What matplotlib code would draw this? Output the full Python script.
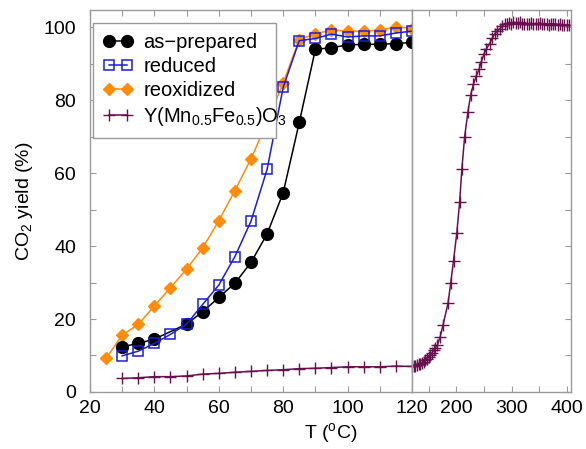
import matplotlib
matplotlib.use("Agg")
import matplotlib.pyplot as plt
from matplotlib.patches import Rectangle
from matplotlib.ticker import MultipleLocator, FixedLocator, FuncFormatter

plt.rcParams['font.family'] = ['Liberation Sans', 'DejaVu Sans']
plt.rcParams['mathtext.fontset'] = 'custom'
plt.rcParams['mathtext.rm'] = 'Liberation Sans'
plt.rcParams['mathtext.it'] = 'Liberation Sans:italic'

# as-prepared
temp_prep = [30, 35, 40, 50, 55, 60, 65, 70, 75, 80, 85, 90, 95, 100, 105, 110, 115, 120]
yield_prep = [12.4, 13.3, 14.5, 18.6, 22.0, 25.9, 29.8, 35.5, 43.3, 54.6, 73.9, 93.9,
              94.4, 95.1, 95.3, 95.3, 95.5, 95.8]

# reduced
temp_red = [30, 35, 40, 45, 50, 55, 60, 65, 70, 75, 80, 85, 90, 95, 100, 105, 110, 115, 120]
yield_red = [9.9, 11.2, 13.3, 15.8, 18.6, 24.0, 29.3, 37.1, 46.8, 61.0, 83.5, 96.3,
             96.9, 98.1, 97.3, 97.6, 97.6, 98.4, 98.9]

# reoxidized
temp_reox = [25, 30, 35, 40, 45, 50, 55, 60, 65, 70, 75, 80, 85, 90, 95, 100, 105, 110, 115, 120]
yield_reox = [9.2, 15.6, 18.5, 23.6, 28.6, 33.7, 39.5, 46.9, 55.2, 63.9, 74.0, 84.7,
              96.6, 98.2, 99.2, 98.9, 98.9, 99.2, 100.1, 99.6]

# Y(Mn0.5Fe0.5)O3
temp_ymf = [30, 35, 40, 45, 50, 55, 60, 65, 70, 75, 80, 85, 90, 95, 100, 105, 110, 115, 120,
            123, 126, 129, 132, 135, 138, 141, 144, 147, 150, 153, 156, 159, 162, 166,
            171, 176, 185, 190, 195, 201, 206, 210, 215, 221, 226, 231, 236, 241, 245,
            250, 254, 260, 265, 269, 274, 279, 283, 287, 291, 295, 299, 303, 307, 311,
            315, 319, 323, 327, 331, 335, 339, 343, 347, 351, 355, 359, 363, 367, 371,
            375, 379, 383, 387, 391, 395, 399, 403]
yield_ymf = [3.7, 3.9, 4.2, 4.2, 4.4, 4.9, 5.1, 5.4, 5.65, 5.9, 6.1, 6.4, 6.5, 6.7, 6.9,
             6.9, 6.9, 7.1, 7.0,
             7.1, 7.2, 7.4, 7.6, 7.8, 8.0, 8.3, 8.7, 9.1, 9.6, 10.1, 10.7, 11.4, 12.1, 12.9,
             15.2, 18.3, 24.3, 29.9, 36.0, 43.7, 52.0, 61.0, 69.9, 76.8, 81.4, 84.4, 86.6,
             88.4, 90.5, 92.6, 93.9, 95.5, 96.9, 98.1, 99.0, 99.6, 100.3, 100.8, 101.0,
             101.2, 101.0, 101.4, 101.2, 101.1, 101.3, 101.0, 100.8, 101.0, 100.9, 101.1,
             100.8, 101.0, 100.9, 101.2, 100.8, 101.0, 100.9, 100.7, 101.0, 100.8, 100.9,
             100.7, 100.8, 100.6, 100.7, 100.5, 100.6]

c_black = '#000000'
c_blue = '#1c1cd6'
c_orange = '#ff8c0a'
c_purple = '#68104e'
c_frame = '#9a9a9a'

fig = plt.figure(figsize=(5.86, 4.49), dpi=100)
ax1 = fig.add_axes([0.1536, 0.127, 0.5494, 0.8507])
ax2 = fig.add_axes([0.703, 0.127, 0.2714, 0.8507])

for ax in (ax1, ax2):
    ax.plot(temp_ymf, yield_ymf, color=c_purple, lw=1.1, marker='+', ms=9, mew=1.0,
            label=r'Y(Mn$_{0.5}$Fe$_{0.5}$)O$_3$', zorder=2)

ax1.plot(temp_prep, yield_prep, color=c_black, lw=1.1, marker='o', ms=8.5,
         label='as\u2212prepared', zorder=4)
ax1.plot(temp_red, yield_red, color=c_blue, lw=1.1, marker='s', ms=7, mfc='none',
         mec=c_blue, mew=1.1, label='reduced', zorder=5)
ax1.plot(temp_reox, yield_reox, color=c_orange, lw=1.1, marker='D', ms=6.5,
         label='reoxidized', zorder=3)

ax1.set_xlim(20, 120)
ax2.set_xlim(120, 407)
for ax in (ax1, ax2):
    ax.set_ylim(0, 104.7)
    for s in ax.spines.values():
        s.set_color(c_frame)
        s.set_linewidth(1.0)
    ax.tick_params(which='both', direction='in', length=4, color=c_frame,
                   labelsize=14, top=True)
    ax.tick_params(axis='x', pad=6)
    ax.tick_params(axis='y', pad=10)
    ax.yaxis.set_major_locator(MultipleLocator(10))

ax1.xaxis.set_major_locator(MultipleLocator(10))
ax1.xaxis.set_major_formatter(FuncFormatter(lambda v, p: '%d' % v if v % 20 == 0 else ''))
ax1.yaxis.set_major_formatter(FuncFormatter(lambda v, p: '%d' % v if v % 20 == 0 else ''))
ax1.tick_params(axis='y', left=True, right=False)

ax2.xaxis.set_major_locator(FixedLocator([150, 200, 250, 300, 350, 400]))
ax2.xaxis.set_major_formatter(FuncFormatter(lambda v, p: '%d' % v if v % 100 == 0 else ''))
ax2.tick_params(axis='y', left=False, right=True, labelleft=False)

ax1.set_ylabel(r'CO$_2$ yield (%)', fontsize=14, labelpad=6)
fig.text(0.564, 0.035, r'T ($^{\mathrm{o}}$C)', fontsize=14, ha='center', va='center')

# legend box drawn by hand: the last label runs slightly past its right edge
frame = Rectangle((0.0093, 0.665), 0.569, 0.301, transform=ax1.transAxes,
                  facecolor='white', edgecolor=c_frame, lw=1.0, zorder=9)
ax1.add_patch(frame)

h, l = ax1.get_legend_handles_labels()
order = [1, 2, 3, 0]
leg = ax1.legend([h[i] for i in order], [l[i] for i in order], loc='upper left',
                 bbox_to_anchor=(0.009, 0.966), borderaxespad=0, fontsize=14.5,
                 numpoints=2, handlelength=1.5, handletextpad=0.5, labelspacing=0.25,
                 frameon=False, borderpad=0.5)
leg.set_zorder(10)

fig.savefig('out.png', dpi=100)
